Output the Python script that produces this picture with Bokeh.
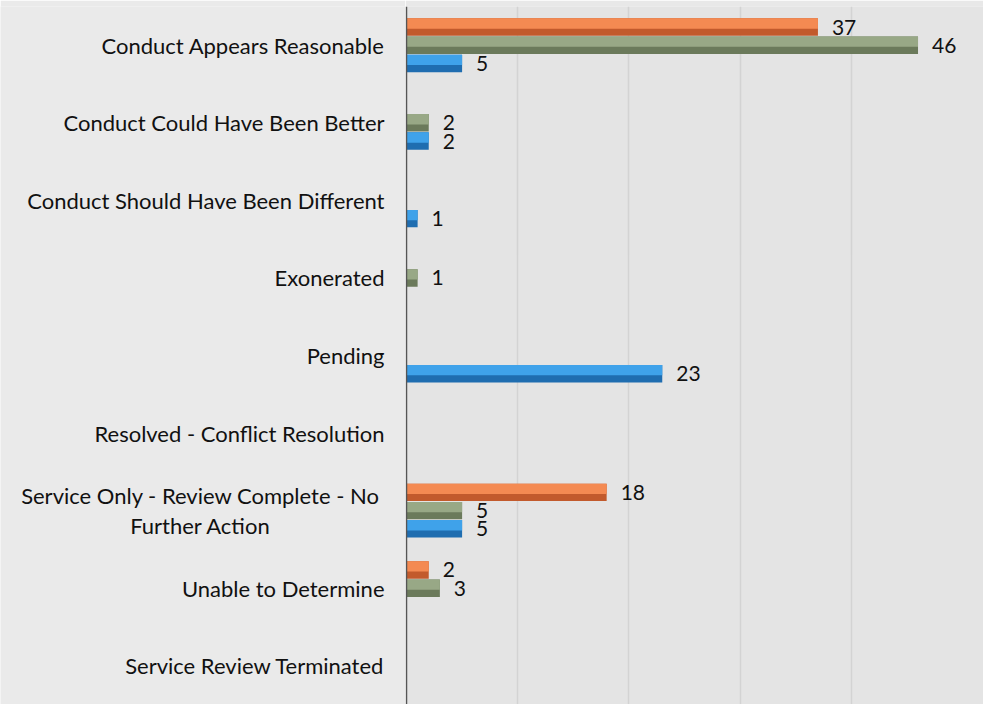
from bokeh.plotting import figure
from bokeh.layouts import row
from bokeh.models import ColumnDataSource, Range1d, FactorRange, FixedTicker, Span
from bokeh.transform import dodge
from bokeh.core.properties import value
from bokeh.embed import file_html
from bokeh.resources import INLINE

categories = [
    "Conduct Appears Reasonable",
    "Conduct Could Have Been Better",
    "Conduct Should Have Been Different",
    "Exonerated",
    "Pending",
    "Resolved - Conflict Resolution",
    "Service Only - Review Complete - No Further Action",
    "Unable to Determine",
    "Service Review Terminated",
]
wrapped_label = ["Service Only - Review Complete - No", "Further Action"]
series_orange = [37, 0, 0, 0, 0, 0, 18, 2, 0]
series_green = [46, 2, 0, 1, 0, 0, 5, 3, 0]
series_blue = [5, 2, 1, 0, 23, 0, 5, 0, 0]
grid_ticks = [10, 20, 30, 40]

FONT = "Lato"
BAR_H = 0.225
SERIES = [
    (series_orange, 0.235, "#c25a2c", "#f48a52"),
    (series_green, 0.0, "#6b7a5b", "#98a886"),
    (series_blue, -0.235, "#1f6db0", "#3fa2ea"),
]

yr = FactorRange(factors=list(reversed(categories)), range_padding=0)

# ---- left panel: category labels ----
left = figure(width=405, height=704, y_range=yr, x_range=Range1d(0, 405),
              output_backend="svg", toolbar_location=None,
              min_border_left=0, min_border_right=0, min_border_top=6, min_border_bottom=0)
left.xaxis.visible = False
left.yaxis.visible = False
left.grid.grid_line_color = None
left.background_fill_color = "#eaeaea"
left.border_fill_color = "#eaeaea"
left.outline_line_color = None

single = [c for c in categories if c != categories[6]]
left.text(x=[384] * len(single), y=single, text=single,
          text_align="right", text_baseline="middle",
          text_font=value(FONT), text_font_size="22px", text_color="#111111")
for line_txt, off in zip(wrapped_label, [0.195, -0.195]):
    left.text(x="x", y=dodge("y", off, range=yr), text="t",
              source=ColumnDataSource(dict(x=[200], y=[categories[6]], t=[line_txt])),
              text_align="center", text_baseline="middle",
              text_font=value(FONT), text_font_size="22px", text_color="#111111")

# ---- right panel: bars ----
PX = 11.12
p = figure(width=578, height=704, y_range=yr, x_range=Range1d(-1.0 / PX, 577.0 / PX),
           output_backend="svg", toolbar_location=None,
           min_border_left=0, min_border_right=0, min_border_top=6, min_border_bottom=0)
p.background_fill_color = "#e4e4e4"
p.border_fill_color = "#e8e8e8"
p.outline_line_color = None
p.xaxis.visible = False
p.yaxis.visible = False
p.ygrid.grid_line_color = None
p.xgrid.ticker = FixedTicker(ticks=grid_ticks)
p.xgrid.grid_line_color = "#d3d3d3"
p.xgrid.grid_line_width = 1.5

for vals, off, dark, light in SERIES:
    cats = [c for c, v in zip(categories, vals) if v > 0]
    vs = [v for v in vals if v > 0]
    src = ColumnDataSource(dict(cat=cats, val=vs, lab=[str(v) for v in vs]))
    p.hbar(y=dodge("cat", off, range=yr), left=0, right="val", height=BAR_H,
           source=src, fill_color=dark, line_color=None)
    p.hbar(y=dodge("cat", off + 0.046, range=yr), left=0, right="val", height=0.133,
           source=src, fill_color=light, line_color=None)
    p.text(x="val", y=dodge("cat", off, range=yr), text="lab", source=src,
           x_offset=14, text_align="left", text_baseline="middle",
           text_font=value(FONT), text_font_size="21px", text_color="#111111")

p.add_layout(Span(location=0, dimension="height", line_color="#555555", line_width=1.5))

layout = row(left, p, spacing=0)
open("out.html", "w").write(file_html(layout, INLINE))
